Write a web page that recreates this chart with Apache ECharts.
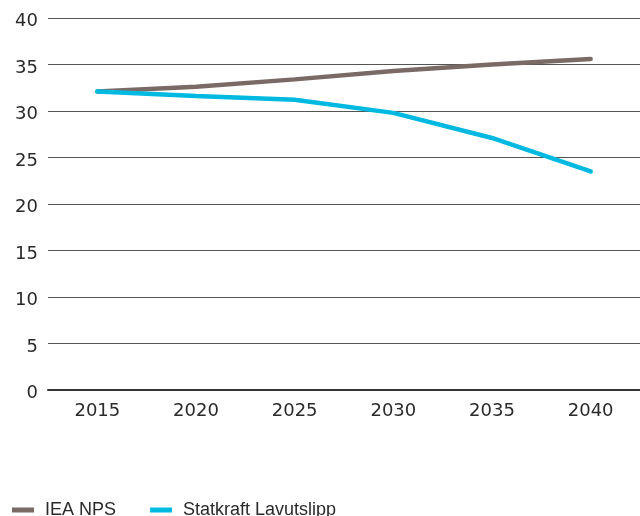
<!DOCTYPE html>
<html><head><meta charset="utf-8">
<script src="https://cdn.jsdelivr.net/npm/echarts@6/dist/echarts.min.js"></script>
<style>html,body{margin:0;padding:0;background:#fff}#c{width:640px;height:516px}</style>
</head><body><div id="c"></div>
<script>
const years = ['2015','2020','2025','2030','2035','2040'];
const ieaNps = [32.1, 32.6, 33.4, 34.3, 35.0, 35.6];
const statkraftLav = [32.1, 31.6, 31.2, 29.8, 27.1, 23.5];
const yTicks = [0, 5, 10, 15, 20, 25, 30, 35, 40];

const chart = echarts.init(document.getElementById('c'), null, {renderer: 'canvas'});
const font = 'DejaVu Sans, Arial, sans-serif';
chart.setOption({
  animation: false,
  grid: {left: 48, right: 0, top: 18, bottom: 126},
  legend: {
    left: 12, top: 501, padding: 0, icon: 'rect', itemWidth: 22, itemHeight: 5, itemGap: 34,
    textStyle: {fontFamily: 'Liberation Sans, Arial, sans-serif', fontSize: 18, color: '#2a2a2a', padding: [0, 0, 0, 6]},
    data: ['IEA NPS', 'Statkraft Lavutslipp']
  },
  xAxis: {
    type: 'category', data: years, boundaryGap: true,
    axisLine: {show: true, lineStyle: {color: '#333', width: 2}}, axisTick: {show: false},
    axisLabel: {fontFamily: font, fontSize: 18, color: '#2a2a2a', margin: 12}
  },
  yAxis: {
    type: 'value', min: yTicks[0], max: yTicks[yTicks.length - 1], interval: 5,
    axisLine: {show: false}, axisTick: {show: false},
    axisLabel: {
      margin: 10,
      formatter: v => '{a|' + v + '}',
      rich: {a: {fontFamily: font, fontSize: 18, color: '#2a2a2a', padding: [7, 0, 0, 0]}}
    },
    splitLine: {lineStyle: {color: '#555', width: 1}}
  },
  series: [
    {name: 'IEA NPS', type: 'line', data: ieaNps, showSymbol: false, symbol: 'none',
     lineStyle: {color: '#7a6a66', width: 4.5, cap: 'round'}, itemStyle: {color: '#7a6a66'}},
    {name: 'Statkraft Lavutslipp', type: 'line', data: statkraftLav, showSymbol: false, symbol: 'none',
     lineStyle: {color: '#00b9e0', width: 4.5, cap: 'round'}, itemStyle: {color: '#00b9e0'}}
  ]
});
</script></body></html>
